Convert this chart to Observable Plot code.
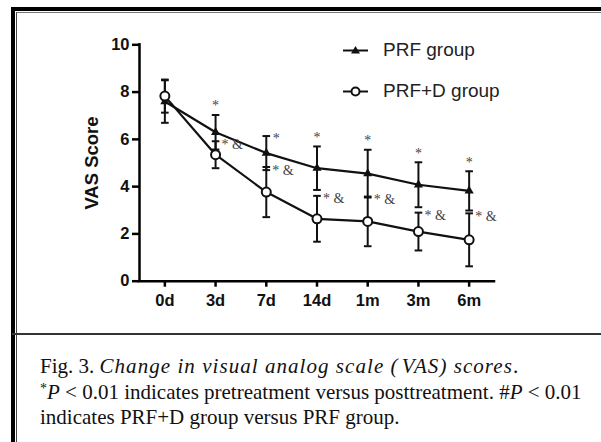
<!DOCTYPE html>
<html>
<head>
<meta charset="utf-8">
<script src="https://cdn.jsdelivr.net/npm/d3@7"></script>
<script src="https://cdn.jsdelivr.net/npm/@observablehq/plot@0.6"></script>
<style>
  html, body { margin: 0; padding: 0; background: #fff; overflow: hidden; width: 601px; height: 442px; }
  #page { position: relative; width: 601px; height: 442px; overflow: hidden; background: #fff; }
  #chart { position: absolute; left: 0; top: 0; }
  .b { position: absolute; }
  #legend { position: absolute; left: 0; top: 0; font-family: "Liberation Sans", Arial, sans-serif; font-size: 19px; color: #222; }
  #caption { position: absolute; left: 40px; top: 354px; font-family: "Liberation Serif", "Times New Roman", serif; font-size: 21px; line-height: 25.5px; color: #111; white-space: nowrap; }
  #caption i { font-style: italic; }
  sup.s { font-size: 14px; vertical-align: 6px; line-height: 0; }
</style>
</head>
<body>
<div id="page">
  <div class="b" style="left:11px;top:7px;width:700px;height:500px;border-left:4px solid #000;border-top:4px solid #000;"></div>
  <div class="b" style="left:16px;top:12px;width:700px;height:500px;border-left:1px solid #444;border-top:1px solid #777;"></div>
  <div class="b" style="left:12px;top:333px;width:700px;height:2px;background:#333;"></div>
  <div id="chart"></div>
  <div id="legend"></div>
  <div id="caption">
    <div>Fig. 3. <i style="letter-spacing:1.05px">Change in visual analog scale (<span style="margin-left:3px">VAS</span>) scores</i>.</div>
    <div><sup class="s">*</sup><i>P</i> &lt; 0.01 indicates pretreatment versus posttreatment. #<i>P</i> &lt; 0.01</div>
    <div>indicates PRF+D group versus PRF group.</div>
  </div>
</div>
<script>
// ---- data ----
const times = ["0d", "3d", "7d", "14d", "1m", "3m", "6m"];
const prfMean = [7.6, 6.3, 5.42, 4.78, 4.55, 4.08, 3.82];
const prfSD = [0.9, 0.73, 0.72, 0.92, 1.01, 0.95, 0.83];
const prfdMean = [7.83, 5.35, 3.77, 2.64, 2.53, 2.1, 1.75];
const prfdSD = [0.7, 0.57, 1.06, 0.97, 1.05, 0.8, 1.12];
const prfMarks = ["", "*", "*", "*", "*", "*", "*"];
const prfdMarks = ["", "* &", "* &", "* &", "* &", "* &", "* &"];
const yTicks = [0, 2, 4, 6, 8, 10];
const seriesNames = ["PRF group", "PRF+D group"];

const rows = times.map((t, i) => ({
  i, t,
  prf: prfMean[i], prfLo: prfMean[i] - prfSD[i], prfHi: prfMean[i] + prfSD[i],
  prfd: prfdMean[i], prfdLo: prfdMean[i] - prfdSD[i], prfdHi: prfdMean[i] + prfdSD[i],
  m1: prfMarks[i], m2: prfdMarks[i]
}));
const idx = times.map((_, i) => i);
const capW = 0.075;
const ann = rows.filter(d => d.m1);
const annTop = ann.filter(d => d.t !== "7d");
const annSide = ann.filter(d => d.t === "7d");

const chart = Plot.plot({
  width: 560,
  height: 334,
  marginLeft: 139,
  marginRight: 66,
  marginTop: 44.3,
  marginBottom: 53.3,
  style: { fontFamily: "Liberation Sans, Arial, sans-serif", color: "#000", background: "transparent", overflow: "visible" },
  x: { type: "linear", domain: [-0.5, times.length - 0.5] },
  y: { domain: [0, 10] },
  marks: [
    Plot.axisX({ ticks: idx, tickFormat: i => times[i], tickSize: 6, tickPadding: 7, strokeWidth: 2.5, fontSize: 16.5, fontWeight: "bold", fill: "#111", label: null }),
    Plot.axisY({ ticks: yTicks, tickSize: 7, tickPadding: 3, strokeWidth: 2.5, fontSize: 16.5, fontWeight: "bold", fill: "#111", label: null }),
    Plot.ruleY([0], { strokeWidth: 2.5, strokeLinecap: "square" }),
    Plot.ruleX([-0.5], { strokeWidth: 2.5, strokeLinecap: "square" }),
    Plot.text(["VAS Score"], { frameAnchor: "left", text: d => d, rotate: -90, textAnchor: "middle", dx: -47, fontSize: 18.5, fontWeight: "bold", fill: "#111" }),
    // lines
    Plot.line(rows, { x: "i", y: "prf", stroke: "#111", strokeWidth: 2.2 }),
    Plot.line(rows, { x: "i", y: "prfd", stroke: "#111", strokeWidth: 2.2 }),
    // error bars
    Plot.ruleX(rows, { x: "i", y1: "prfLo", y2: "prfHi", stroke: "#111", strokeWidth: 2 }),
    Plot.ruleX(rows, { x: "i", y1: "prfdLo", y2: "prfdHi", stroke: "#111", strokeWidth: 2 }),
    Plot.link(rows, { x1: d => d.i - capW, x2: d => d.i + capW, y1: "prfHi", y2: "prfHi", stroke: "#111", strokeWidth: 2 }),
    Plot.link(rows, { x1: d => d.i - capW, x2: d => d.i + capW, y1: "prfLo", y2: "prfLo", stroke: "#111", strokeWidth: 2 }),
    Plot.link(rows, { x1: d => d.i - capW, x2: d => d.i + capW, y1: "prfdHi", y2: "prfdHi", stroke: "#111", strokeWidth: 2 }),
    Plot.link(rows, { x1: d => d.i - capW, x2: d => d.i + capW, y1: "prfdLo", y2: "prfdLo", stroke: "#111", strokeWidth: 2 }),
    // markers
    Plot.dot(rows, { x: "i", y: "prf", symbol: "triangle", r: 3.4, fill: "#111" }),
    Plot.dot(rows, { x: "i", y: "prfd", symbol: "circle", r: 4.5, fill: "#fff", stroke: "#111", strokeWidth: 2 }),
    // significance annotations
    Plot.text(annTop, { x: "i", y: "prfHi", text: "m1", dy: -9, fontSize: 14, fontFamily: "Liberation Serif, serif", fill: "#444" }),
    Plot.text(annSide, { x: "i", y: "prfHi", text: "m1", dx: 10, dy: 2, fontSize: 14, fontFamily: "Liberation Serif, serif", fill: "#444" }),
    Plot.text(ann, { x: "i", y: "prfdHi", text: "m2", textAnchor: "start", dx: 6, dy: 3, fontSize: 14, fontFamily: "Liberation Serif, serif", fill: "#444" })
  ]
});
document.getElementById("chart").appendChild(chart);

// legend
const lg = document.getElementById("legend");
const syms = [
  '<polygon points="12.5,2 17,9.5 8,9.5" fill="#111"/>',
  '<circle cx="12.5" cy="6.5" r="4" fill="#fff" stroke="#111" stroke-width="2"/>'
];
const legendY = [50, 91];
seriesNames.forEach((name, k) => {
  const row = document.createElement("div");
  row.style.cssText = `position:absolute;left:343px;top:${legendY[k] - 11}px;white-space:nowrap;height:22px;display:flex;align-items:center;`;
  row.innerHTML = `<svg width="25" height="13" style="overflow:visible"><line x1="0" x2="25" y1="6.5" y2="6.5" stroke="#111" stroke-width="2"/>${syms[k]}</svg><span style="margin-left:15px">${name}</span>`;
  lg.appendChild(row);
});
</script>
</body>
</html>
